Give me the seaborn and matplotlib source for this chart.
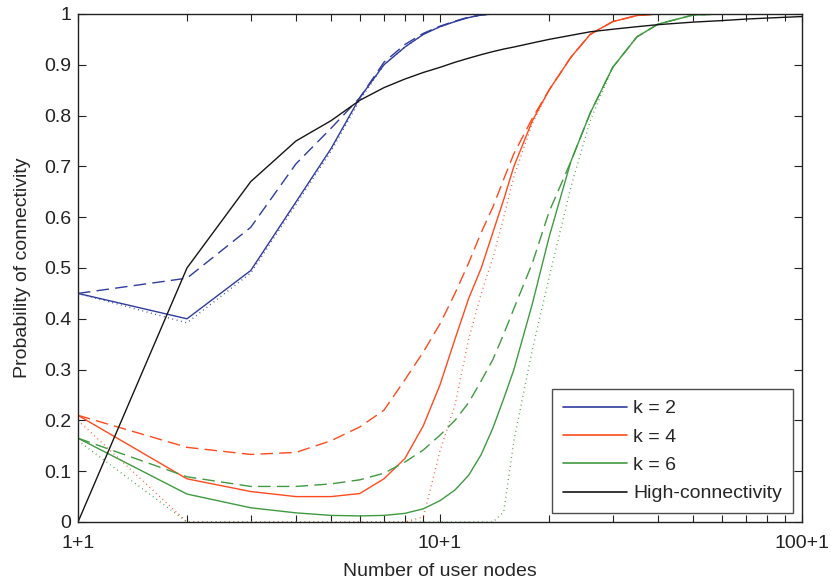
import matplotlib
matplotlib.use("Agg")
import matplotlib.pyplot as plt
from matplotlib.lines import Line2D
import seaborn as sns

# Number of user nodes (log-scaled axis)
nodes = [1, 2, 3, 4, 5, 6, 7, 8, 9, 10, 11, 12, 13, 14, 15, 16, 18, 20,
         23, 26, 30, 35, 40, 50, 60, 70, 80, 100]

# k = 2
k2_solid = [0.45, 0.40, 0.495, 0.63, 0.735, 0.835, 0.90, 0.935, 0.96, 0.975,
            0.985, 0.993, 0.998, 1, 1, 1, 1, 1, 1, 1, 1, 1, 1, 1, 1, 1, 1, 1]
k2_dashed = [0.45, 0.48, 0.58, 0.705, 0.775, 0.835, 0.905, 0.94, 0.962, 0.976,
             0.986, 0.994, 0.998, 1, 1, 1, 1, 1, 1, 1, 1, 1, 1, 1, 1, 1, 1, 1]
k2_dotted = [0.45, 0.392, 0.49, 0.625, 0.73, 0.83, 0.90, 0.935, 0.96, 0.975,
             0.985, 0.993, 0.998, 1, 1, 1, 1, 1, 1, 1, 1, 1, 1, 1, 1, 1, 1, 1]

# k = 4
k4_solid = [0.21, 0.085, 0.06, 0.05, 0.05, 0.056, 0.085, 0.125, 0.19, 0.27,
            0.36, 0.44, 0.50, 0.57, 0.635, 0.70, 0.79, 0.85, 0.915, 0.96,
            0.985, 0.997, 1, 1, 1, 1, 1, 1]
k4_dashed = [0.21, 0.147, 0.133, 0.137, 0.16, 0.187, 0.22, 0.28, 0.335, 0.39,
             0.45, 0.51, 0.57, 0.62, 0.675, 0.725, 0.795, 0.85, 0.915, 0.96,
             0.985, 0.997, 1, 1, 1, 1, 1, 1]
k4_dotted = [0.20, 0, 0, 0, 0, 0, 0, 0, 0.01, 0.14,
             0.23, 0.36, 0.45, 0.52, 0.60, 0.68, 0.785, 0.85, 0.915, 0.96,
             0.985, 0.997, 1, 1, 1, 1, 1, 1]

# k = 6
k6_solid = [0.165, 0.055, 0.028, 0.018, 0.013, 0.012, 0.013, 0.017, 0.026,
            0.042, 0.063, 0.092, 0.133, 0.185, 0.243, 0.30, 0.43, 0.56, 0.71,
            0.805, 0.895, 0.955, 0.98, 0.998, 1, 1, 1, 1]
k6_dashed = [0.165, 0.089, 0.07, 0.07, 0.075, 0.083, 0.096, 0.118, 0.142,
             0.171, 0.20, 0.235, 0.278, 0.32, 0.37, 0.42, 0.51, 0.61, 0.71,
             0.805, 0.895, 0.955, 0.98, 0.998, 1, 1, 1, 1]
k6_dotted = [0.16, 0, 0, 0, 0, 0, 0, 0, 0, 0, 0, 0, 0, 0, 0.02, 0.16, 0.34,
             0.48, 0.66, 0.79, 0.895, 0.955, 0.98, 0.998, 1, 1, 1, 1]

# High-connectivity
high_conn = [0, 0.50, 0.67, 0.75, 0.79, 0.83, 0.855, 0.872, 0.885, 0.895,
             0.905, 0.913, 0.92, 0.926, 0.931, 0.935, 0.943, 0.95, 0.958,
             0.965, 0.97, 0.975, 0.979, 0.984, 0.987, 0.99, 0.992, 0.995]

legend_labels = ["k = 2", "k = 4", "k = 6", "High-connectivity"]
x_ticks = [1, 10, 100]
x_tick_labels = ["1+1", "10+1", "100+1"]
y_ticks = [0, 0.1, 0.2, 0.3, 0.4, 0.5, 0.6, 0.7, 0.8, 0.9, 1]
y_tick_labels = ["0", "0.1", "0.2", "0.3", "0.4", "0.5", "0.6", "0.7",
                 "0.8", "0.9", "1"]

BLUE = "#2f3c9e"
RED = "#ff4a1e"
GREEN = "#3f9a40"
BLACK = "#151515"

sns.set_style("ticks", {"xtick.direction": "in", "ytick.direction": "in"})
plt.rcParams["font.family"] = ["Liberation Sans Narrow", "Liberation Sans",
                               "DejaVu Sans"]

fig = plt.figure(figsize=(8.31, 5.84), dpi=100)
ax = fig.add_axes([78 / 831, 1 - 522 / 584, 724 / 831, 508 / 584])

lw = 1.0
dash = (0, (9, 4.5))
dot = (0, (0.6, 2.6))

series = [
    (k2_solid, BLUE, "-"), (k2_dashed, BLUE, dash), (k2_dotted, BLUE, dot),
    (k4_solid, RED, "-"), (k4_dashed, RED, dash), (k4_dotted, RED, dot),
    (k6_solid, GREEN, "-"), (k6_dashed, GREEN, dash), (k6_dotted, GREEN, dot),
    (high_conn, BLACK, "-"),
]
for values, color, ls in series:
    sns.lineplot(x=nodes, y=values, ax=ax, color=color, linestyle=ls,
                 linewidth=lw, legend=False, errorbar=None)

ax.set_xscale("log")
ax.set_xlim(1, 100)
ax.set_ylim(0, 1)
ax.set_xticks(x_ticks)
ax.set_xticklabels(x_tick_labels)
ax.set_yticks(y_ticks)
ax.set_yticklabels(y_tick_labels)
ax.tick_params(axis="both", which="both", direction="in", top=True,
               right=True, labelsize=14, colors="#222222", width=0.8)
ax.tick_params(axis="both", which="major", length=6, pad=5)
ax.tick_params(axis="x", which="minor", length=5)
ax.tick_params(axis="x", which="major", pad=9)
for spine in ax.spines.values():
    spine.set_linewidth(1.0)
    spine.set_color("#222222")

ax.set_xlabel("Number of user nodes", fontsize=14, labelpad=8)
ax.set_ylabel("Probability of connectivity", fontsize=14, labelpad=9)

handles = [Line2D([], [], color=c, linewidth=1.2) for c in
           (BLUE, RED, GREEN, BLACK)]
leg = ax.legend(handles, legend_labels, loc="lower right",
                bbox_to_anchor=(0.9876, 0.0177), borderaxespad=0,
                fontsize=14, frameon=True, fancybox=False,
                edgecolor="#222222", handlelength=3.3, handletextpad=0.32,
                labelspacing=0.55, borderpad=0.55)
leg.get_frame().set_linewidth(1.0)

fig.savefig("out.png", dpi=100, facecolor="white")
